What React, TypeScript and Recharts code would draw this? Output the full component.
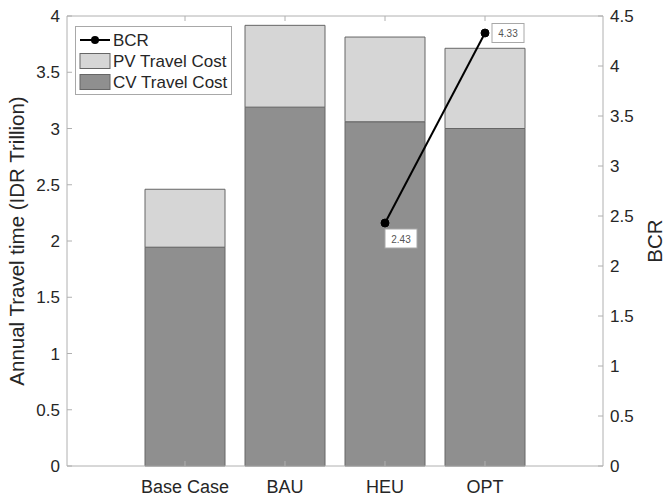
import React from 'react';
import { ComposedChart, Bar, Line, XAxis, YAxis, Legend, LabelList } from 'recharts';

const categories = ['Base Case', 'BAU', 'HEU', 'OPT'];
const cvCost = [1.945, 3.19, 3.06, 3.0];
const pvCost = [0.515, 0.727, 0.753, 0.713];
const bcr: (number | null)[] = [null, null, 2.43, 4.33];
const leftTicks = [0, 0.5, 1, 1.5, 2, 2.5, 3, 3.5, 4];
const rightTicks = [0, 0.5, 1, 1.5, 2, 2.5, 3, 3.5, 4, 4.5];

const data = categories.map((name, i) => ({ name, cv: cvCost[i], pv: pvCost[i], bcr: bcr[i] }));

const FONT = '"Liberation Sans", Arial, Helvetica, sans-serif';
const AXIS = '#b0b0b0';
const TEXT = '#262626';
const CV_FILL = '#8f8f8f';
const PV_FILL = '#d6d6d6';
const BAR_STROKE = '#666666';

// label box placement relative to the point (style only)
const boxOffsets: Record<number, { dx: number; dy: number }> = {
  2: { dx: 0, dy: 6 },
  3: { dx: 7, dy: -9.5 },
};

const fmt = (v: number) => String(v);

const AxisTitle = (props: any) => {
  const { viewBox, value, dxFromLeft } = props;
  const cx = viewBox.x + dxFromLeft;
  const cy = viewBox.y + viewBox.height / 2;
  return (
    <text x={cx} y={cy} transform={`rotate(-90, ${cx}, ${cy})`} textAnchor="middle" dominantBaseline="central"
      fontSize={20.5} fill={TEXT} fontFamily={FONT}>{value}</text>
  );
};

const ValueBox = (props: any) => {
  const { x, y, value, index } = props;
  if (value === null || value === undefined) return null;
  const off = boxOffsets[index] || { dx: 7, dy: -9.5 };
  const bx = x + off.dx;
  const by = y + off.dy;
  return (
    <g>
      <rect x={bx} y={by} width={32} height={19} fill="#fff" stroke="#a8a8a8" strokeWidth={1} />
      <text x={bx + 16} y={by + 10} textAnchor="middle" dominantBaseline="central" fontSize={10} fill="#555" fontFamily={FONT}>
        {Number(value).toFixed(2)}
      </text>
    </g>
  );
};

const legendItems = [
  { label: 'BCR', kind: 'line', color: '#000' },
  { label: 'PV Travel Cost', kind: 'box', color: PV_FILL },
  { label: 'CV Travel Cost', kind: 'box', color: CV_FILL },
];

const LegendBox = () => (
  <svg width={157} height={69} style={{ display: 'block' }}>
    <rect x={0.5} y={0.5} width={156} height={68} fill="#fff" stroke="#a8a8a8" />
    {legendItems.map((it, i) => {
      const cy = 14 + i * 21;
      return (
        <g key={it.label}>
          {it.kind === 'line' ? (
            <g>
              <line x1={5} x2={35} y1={cy} y2={cy} stroke="#000" strokeWidth={2} />
              <circle cx={20} cy={cy} r={4} fill="#000" />
            </g>
          ) : (
            <rect x={5} y={cy - 7.5} width={30} height={15} fill={it.color} stroke={BAR_STROKE} />
          )}
          <text x={38} y={cy} dominantBaseline="central" fontSize={17} fill={TEXT} fontFamily={FONT}>{it.label}</text>
        </g>
      );
    })}
  </svg>
);

export default function App() {
  return (
    <div style={{ position: 'fixed', left: 0, top: 0, width: 664, height: 498, background: '#fff' }}>
      <ComposedChart width={664} height={498} data={data} margin={{ top: 10, right: 0, bottom: 0, left: 0 }}>
        <XAxis dataKey="name" xAxisId="bottom" orientation="bottom" height={32} padding={{ left: 68, right: 68 }}
          stroke={AXIS} tickSize={-5} tickMargin={19} interval={0}
          tick={{ fill: TEXT, fontSize: 18, fontFamily: FONT }} />
        <XAxis dataKey="name" xAxisId="top" orientation="top" height={6} padding={{ left: 68, right: 68 }}
          stroke={AXIS} tickSize={-5} tickFormatter={() => ''} interval={0} />
        <YAxis yAxisId="left" orientation="left" width={67} domain={[0, 4]} ticks={leftTicks} type="number"
          stroke={AXIS} tickSize={-5} tickMargin={12} tickFormatter={fmt} interval={0}
          tick={{ fill: TEXT, fontSize: 17, fontFamily: FONT }}
          label={<AxisTitle value="Annual Travel time (IDR Trillion)" dxFromLeft={16} />} />
        <YAxis yAxisId="right" orientation="right" width={61} domain={[0, 4.5]} ticks={rightTicks} type="number"
          stroke={AXIS} tickSize={-5} tickMargin={12} tickFormatter={fmt} interval={0}
          tick={{ fill: TEXT, fontSize: 17, fontFamily: FONT }}
          label={<AxisTitle value="BCR" dxFromLeft={51} />} />
        <Bar xAxisId="bottom" yAxisId="left" dataKey="cv" stackId="s" name="CV Travel Cost" fill={CV_FILL}
          stroke={BAR_STROKE} strokeWidth={1} barSize={80} isAnimationActive={false} />
        <Bar xAxisId="bottom" yAxisId="left" dataKey="pv" stackId="s" name="PV Travel Cost" fill={PV_FILL}
          stroke={BAR_STROKE} strokeWidth={1} barSize={80} isAnimationActive={false} />
        <Line xAxisId="bottom" yAxisId="right" dataKey="bcr" name="BCR" stroke="#000" strokeWidth={2}
          dot={{ r: 4, fill: '#000', stroke: '#000', strokeWidth: 1 }} isAnimationActive={false}>
          <LabelList dataKey="bcr" content={<ValueBox />} />
        </Line>
        <Legend layout="vertical" align="center" verticalAlign="middle" content={() => <LegendBox />}
          wrapperStyle={{ left: 75, top: 26, width: 157, height: 69 }} />
      </ComposedChart>
    </div>
  );
}
